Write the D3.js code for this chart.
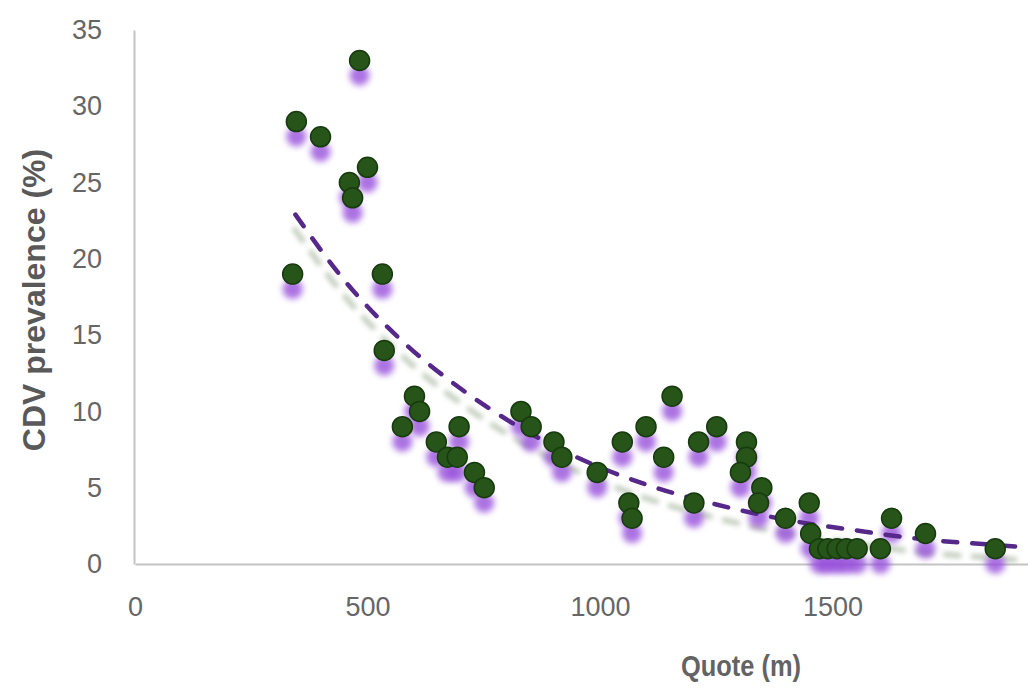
<!DOCTYPE html>
<html>
<head>
<meta charset="utf-8">
<script src="https://cdn.jsdelivr.net/npm/d3@7/dist/d3.min.js"></script>
<style>
  html, body { margin: 0; padding: 0; background: #ffffff; overflow: hidden; }
  svg { display: block; }
</style>
</head>
<body>
<div id="chart"></div>
<script>
// ---- data ----
const quote = [347, 399, 483, 461, 468, 500, 339, 532, 536,
               601, 612, 575, 697, 648, 672, 693, 730, 751,
               830, 852, 901, 918, 994, 1048, 1062, 1069, 1099, 1137, 1155,
               1212, 1202, 1251, 1315, 1315, 1302, 1348, 1341,
               1399, 1450, 1453, 1472, 1490, 1510, 1530, 1553, 1603, 1627, 1700, 1850];
const prevalence = [29, 28, 33, 25, 24, 26, 19, 19, 14,
                    11, 10, 9, 9, 8, 7, 7, 6, 5,
                    10, 9, 8, 7, 6, 8, 4, 3, 9, 7, 11,
                    8, 4, 9, 8, 7, 6, 5, 4,
                    3, 4, 2, 1, 1, 1, 1, 1, 1, 3, 2, 1];

// exponential trendline
const trendQuote = [345, 450, 575, 700, 825, 950, 1100, 1250, 1400, 1550, 1700, 1850, 1910];
const trendValue = [22.9, 18.6, 14.6, 11.5, 9.0, 7.0, 5.2, 3.9, 2.9, 2.2, 1.6, 1.25, 1.1];

const xTicks = [0, 500, 1000, 1500];
const yTicks = [0, 5, 10, 15, 20, 25, 30, 35];
const xTitle = "Quote (m)";
const yTitle = "CDV prevalence (%)";

// ---- layout ----
const W = 1028, H = 688;
const svg = d3.select("#chart").append("svg").attr("width", W).attr("height", H);

const x = d3.scaleLinear().domain([0, 2000]).range([135, 135 + 2000 * 0.465]);
const y = d3.scaleLinear().domain([0, 35]).range([564, 30]);

const defs = svg.append("defs");
const fPt = defs.append("filter").attr("id", "ptShadow")
  .attr("x", "-100%").attr("y", "-100%").attr("width", "300%").attr("height", "300%");
fPt.append("feGaussianBlur").attr("stdDeviation", 3.4);
const fLn = defs.append("filter").attr("id", "lnShadow")
  .attr("x", "-10%").attr("y", "-20%").attr("width", "120%").attr("height", "140%");
fLn.append("feGaussianBlur").attr("stdDeviation", 2.5);

// axes
const fontFam = "'Liberation Sans', Arial, sans-serif";
const gx = svg.append("g").attr("transform", `translate(0,${y(0)})`)
  .call(d3.axisBottom(x).tickValues(xTicks).tickSize(0).tickPadding(33).tickFormat(d3.format("d")));
const gy = svg.append("g").attr("transform", `translate(${x(0) - 1},0)`)
  .call(d3.axisLeft(y).tickValues(yTicks).tickSize(0).tickPadding(32).tickFormat(d3.format("d")));
[gx, gy].forEach(g => {
  g.select(".domain").attr("stroke", "#c4c4c4").attr("stroke-width", 2);
  g.selectAll("text").attr("fill", "#666666").attr("font-size", 27).attr("font-family", fontFam);
});

// trendline shadow + line
const line = d3.line().x((d, i) => x(trendQuote[i])).y(d => y(d)).curve(d3.curveMonotoneX);
svg.append("path").datum(trendValue)
  .attr("d", line)
  .attr("transform", "translate(-2,13)")
  .attr("fill", "none").attr("stroke", "#aebca6").attr("stroke-width", 5)
  .attr("stroke-dasharray", "18,10").attr("opacity", 0.8)
  .attr("filter", "url(#lnShadow)");

// point shadows
const pts = quote.map((q, i) => ({ q, v: prevalence[i] }));
svg.append("g").selectAll("circle").data(pts).join("circle")
  .attr("cx", d => x(d.q)).attr("cy", d => y(d.v) + 15).attr("r", 10)
  .attr("fill", "#9750db").attr("opacity", 0.8)
  .attr("filter", "url(#ptShadow)");

// trendline
svg.append("path").datum(trendValue)
  .attr("d", line)
  .attr("fill", "none").attr("stroke", "#55288a").attr("stroke-width", 4.5)
  .attr("stroke-linecap", "round")
  .attr("stroke-dasharray", "14,15");

// points
svg.append("g").selectAll("circle").data(pts).join("circle")
  .attr("cx", d => x(d.q)).attr("cy", d => y(d.v)).attr("r", 10)
  .attr("fill", "#265419").attr("stroke", "#173b0e").attr("stroke-width", 1.5);

// axis titles
svg.append("text")
  .attr("transform", `translate(45,${300}) rotate(-90)`)
  .attr("text-anchor", "middle")
  .attr("font-family", fontFam).attr("font-weight", "bold").attr("font-size", 32)
  .attr("fill", "#595959").text(yTitle);
svg.append("text")
  .attr("x", 741).attr("y", 676)
  .attr("text-anchor", "middle")
  .attr("font-family", fontFam).attr("font-weight", "bold").attr("font-size", 30)
  .attr("textLength", 120).attr("lengthAdjust", "spacingAndGlyphs")
  .attr("fill", "#636363").text(xTitle);
</script>
</body>
</html>
